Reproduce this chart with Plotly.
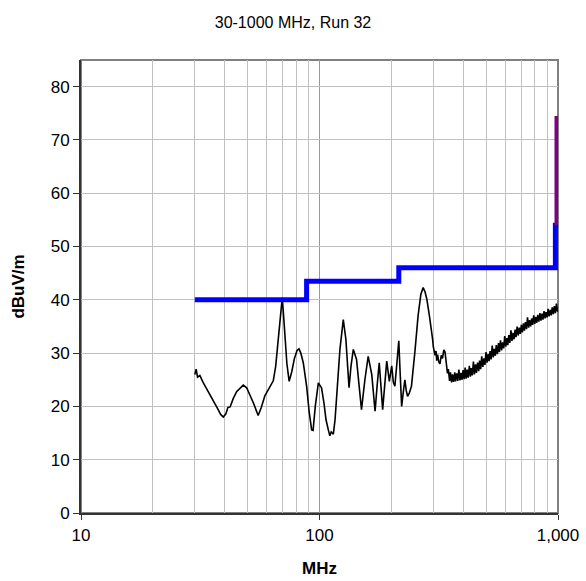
import plotly.graph_objects as go

# ---- data ----
freq_mhz = [
    30.0, 30.4, 30.8, 31.5, 32.5, 33.5, 34.8, 36.0, 37.5, 38.5, 39.5, 40.5, 41.3, 42.2,
    43.5, 45.0, 46.5, 47.9, 49.5, 51.1, 53.0, 55.3, 57.0, 59.0, 61.0, 64.0, 65.5, 67.1,
    68.5, 69.8, 70.7, 71.6, 73.0, 74.6, 76.5, 78.5, 80.5, 82.0, 83.5, 85.5, 88.3, 90.5,
    92.7, 94.0, 96.0, 98.9, 100.5, 102.0, 104.5, 106.5, 108.9, 110.5, 112.0, 114.3, 116.2,
    119.0, 121.8, 125.8, 129.0, 133.0, 135.5, 138.6, 143.0, 146.5, 150.0, 155.0, 160.0,
    165.6, 171.0, 174.5, 178.0, 184.0, 188.0, 191.4, 196.3, 200.8, 204.0, 207.0, 211.0,
    215.0, 218.0, 221.0, 225.0, 228.0, 231.0, 234.0, 238.0, 243.0, 251.0, 259.0, 266.0,
    272.0, 277.0, 282.0,
    289, 292, 295.5, 298, 300, 302, 305, 308, 310, 313, 316, 320, 324, 328, 332, 336,
    340, 344, 347, 351, 354, 358, 361, 365, 369, 372,
    376, 380, 384, 388, 392, 396, 400, 404, 408, 412,
    416, 420, 425, 429, 433, 437, 442, 446, 451, 455,
    460, 465, 469, 474, 479, 484, 489, 494, 499, 504,
    509, 514, 519, 524, 530, 535, 540, 546, 551, 557,
    563, 568, 574, 580, 586, 592, 598, 604, 610, 616,
    622, 628, 635, 641, 648, 654, 661, 667, 674, 681,
    688, 695, 702, 709, 716, 723, 730, 738, 745, 753,
    760, 768, 775, 783, 791, 799, 807, 815, 823, 831,
    840, 848, 857, 865, 874, 883, 891, 900, 909, 918,
    928, 937, 946, 956, 965, 975, 985, 995, 1000,
]
level_dbuv = [
    26.0, 27.0, 25.5, 25.8, 24.5, 23.5, 22.2, 21.0, 19.5, 18.5, 18.0, 18.6, 19.8, 19.9,
    21.5, 22.8, 23.5, 24.0, 23.5, 22.2, 20.5, 18.3, 19.8, 22.0, 23.2, 24.8, 27.5, 32.6,
    37.0, 40.4, 37.0, 32.6, 28.0, 24.7, 26.5, 29.0, 30.5, 30.8, 30.0, 28.2, 23.8, 19.0,
    15.6, 15.5, 20.0, 24.4, 24.0, 23.5, 20.5, 17.5, 15.6, 14.5, 15.2, 14.8, 17.5,
    24.5, 30.7, 36.3, 32.6, 23.5, 27.5, 30.7, 28.8, 24.0, 19.4, 25.0, 29.4,
    26.0, 19.1, 24.0, 28.2, 19.4, 25.0, 28.5, 24.7, 27.6, 24.5, 23.8, 28.0,
    32.3, 26.0, 20.0, 23.0, 25.0, 23.0, 21.9, 22.5, 23.8, 30.1, 37.0, 41.0,
    42.3, 41.5, 40.1,
    37.0, 35.8, 33.8, 32.6, 31.2, 30.3, 29.6, 30.4, 28.6, 29.7, 28.4, 28.0, 29.6, 29.0, 30.6, 30.2,
    28.5, 26.2, 27.0, 24.8, 26.4, 24.5, 26.0, 24.6, 26.4, 24.7,
    26.2, 24.8, 26.9, 24.9, 26.3, 25.0, 26.8, 25.1, 27.3, 25.2,
    26.9, 25.4, 27.6, 25.6, 27.2, 25.8, 28.4, 26.0, 27.9, 26.3,
    28.2, 26.6, 28.6, 27.0, 29.4, 27.4, 29.0, 27.8, 30.2, 28.2,
    29.8, 28.5, 30.4, 28.8, 31.4, 29.2, 30.8, 29.5, 31.5, 29.8,
    31.9, 30.2, 32.4, 30.5, 32.0, 30.9, 33.2, 31.2, 32.8, 31.5,
    33.4, 31.9, 34.3, 32.3, 33.8, 32.6, 34.4, 33.0, 35.0, 33.3,
    34.8, 33.6, 35.3, 33.9, 35.6, 34.2, 35.8, 34.5, 36.7, 34.8,
    36.2, 35.0, 36.5, 35.3, 37.1, 35.5, 36.8, 35.7, 37.2, 35.9,
    37.5, 36.1, 37.4, 36.3, 37.9, 36.5, 37.7, 36.7, 38.3, 36.9,
    38.1, 37.1, 38.6, 37.3, 38.8, 37.5, 39.3, 37.8, 38.6,
]
assert len(freq_mhz) == len(level_dbuv)

limit_freq = [30, 88.3, 88.3, 215, 215, 975, 975, 1000]
limit_level = [40, 40, 43.5, 43.5, 46, 46, 54, 54]

marker_freq = [1000, 1000]
marker_level = [54, 74.5]

x_tick_vals = [10, 100, 1000]
x_tick_text = ["10", "100", "1,000"]
x_minor_vals = [20, 30, 40, 50, 60, 70, 80, 90, 200, 300, 400, 500, 600, 700, 800, 900]
y_tick_vals = [0, 10, 20, 30, 40, 50, 60, 70, 80]

# ---- figure ----
fig = go.Figure()
fig.add_trace(go.Scatter(x=freq_mhz, y=level_dbuv, mode="lines",
                         line=dict(color="black", width=1.6), showlegend=False))
fig.add_trace(go.Scatter(x=limit_freq, y=limit_level, mode="lines",
                         line=dict(color="#0000ff", width=5), showlegend=False))
fig.add_trace(go.Scatter(x=marker_freq, y=marker_level, mode="lines",
                         line=dict(color="#800080", width=7), showlegend=False))

font_family = "Liberation Sans, Arial, sans-serif"
fig.update_layout(
    width=586, height=581,
    margin=dict(l=81, r=28, t=60, b=68),
    paper_bgcolor="white", plot_bgcolor="white",
    font=dict(family=font_family, color="black", size=17),
    title=dict(text="30-1000 MHz, Run 32", x=0.5, xanchor="center",
               y=1 - 22 / 581, yanchor="middle", font=dict(size=16)),
    shapes=[dict(type="rect", xref="paper", yref="paper", x0=0, x1=1, y0=0, y1=1,
                 line=dict(color="#808080", width=2), layer="below")],
)
fig.update_xaxes(
    type="log", range=[1, 3], automargin=False,
    tickmode="array", tickvals=x_tick_vals, ticktext=x_tick_text,
    ticks="outside", ticklen=5, tickcolor="#333", ticklabelstandoff=1,
    showgrid=True, gridcolor="#999999", gridwidth=1,
    minor=dict(tickmode="array", tickvals=x_minor_vals, showgrid=True,
               gridcolor="#c0c0c0", gridwidth=1, ticks=""),
    showline=True, linecolor="#333333", linewidth=2,
    title=dict(text="<b>MHz</b>", font=dict(size=17), standoff=18),
    zeroline=False,
)
fig.update_yaxes(
    range=[0, 85], automargin=False, tickmode="array", tickvals=y_tick_vals,
    ticks="outside", ticklen=6, tickcolor="#333",
    showgrid=True, gridcolor="#c0c0c0", gridwidth=1,
    showline=True, linecolor="#333333", linewidth=2,
    title=dict(text="<b>dBuV/m</b>", font=dict(size=17), standoff=22),
    zeroline=False,
)

fig.write_html("out.html")
